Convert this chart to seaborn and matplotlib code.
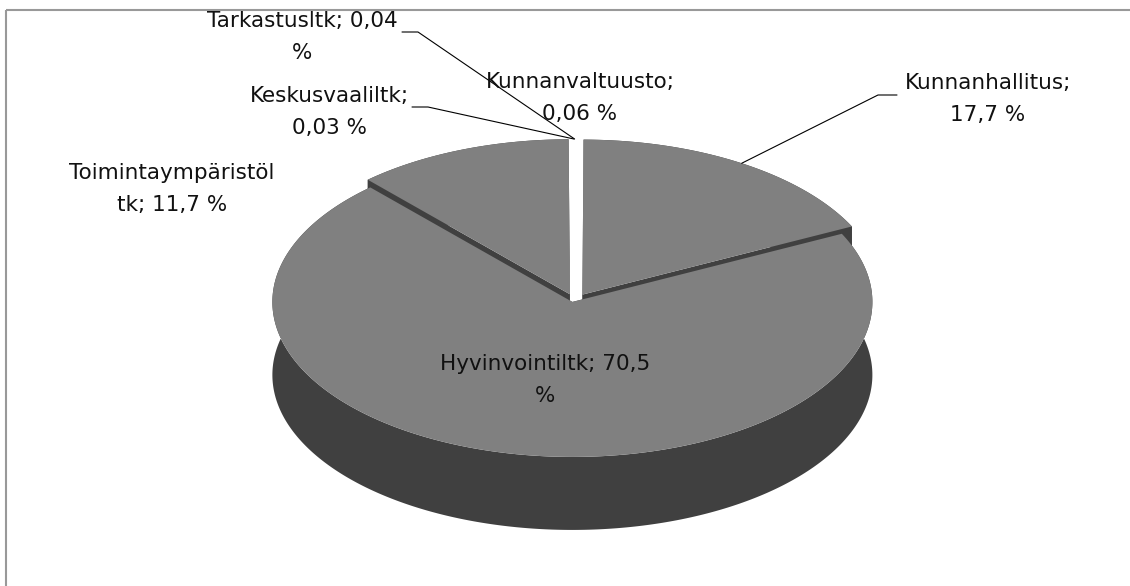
import numpy as np
import matplotlib
matplotlib.use("Agg")
import matplotlib.pyplot as plt
from matplotlib.patches import Polygon
import seaborn as sns

# slices in drawing order, clockwise from 12 o'clock
names = ["Kunnanvaltuusto", "Kunnanhallitus", "Hyvinvointiltk",
         "Toimintaympäristöltk", "Keskusvaaliltk", "Tarkastusltk"]
shares = [0.06, 17.7, 70.5, 11.7, 0.03, 0.04]
label_texts = ["Kunnanvaltuusto;\n0,06 %", "Kunnanhallitus;\n17,7 %",
               "Hyvinvointiltk; 70,5\n%", "Toimintaympäristöl\ntk; 11,7 %",
               "Keskusvaaliltk;\n0,03 %", "Tarkastusltk; 0,04\n%"]

sns.set_style("white")
plt.rcParams["font.family"] = ["DejaVu Sans"]

top_col = "#808080"
side_col = "#404040"
slice_top = [top_col if s >= 1 else "white" for s in shares]
slice_side = [side_col if s >= 1 else "white" for s in shares]

# pie geometry (pixels)
cx, cy = 575, 298
rx, ry = 300, 155
depth = 73
ex, ey = 14, 4  # explosion

fig = plt.figure(figsize=(11.3, 5.86), dpi=100)
ax = fig.add_axes([0, 0, 1, 1])
ax.set_xlim(0, 1130)
ax.set_ylim(586, 0)
ax.axis("off")

frac = np.array(shares) / np.sum(shares)
ends = np.cumsum(frac) * 360
starts = ends - frac * 360
mids = (starts + ends) / 2


def rim(th, ox, oy, dz=0):
    t = np.radians(th)
    return np.column_stack([ox + rx * np.sin(t), oy - ry * np.cos(t) + dz])


slices = []
for i in range(len(shares)):
    m = np.radians(mids[i])
    slices.append((cx + ex * np.sin(m), cy - ey * np.cos(m)))

# back to front
order = np.argsort(-np.cos(np.radians(mids)))
for i in order:
    ox, oy = slices[i]
    th = np.linspace(starts[i], ends[i], max(int(frac[i] * 720), 2))
    top = rim(th, ox, oy)
    bot = rim(th, ox, oy, depth)
    apex = np.array([[ox, oy]])
    apex_b = np.array([[ox, oy + depth]])
    # radial faces
    for j in (0, -1):
        quad = np.vstack([apex, top[[j]], bot[[j]], apex_b])
        ax.add_patch(Polygon(quad, closed=True, fc=slice_side[i], lw=0))
    # outer wall
    wall = np.vstack([top, bot[::-1]])
    ax.add_patch(Polygon(wall, closed=True, fc=slice_side[i], lw=0))
    ax.add_patch(Polygon(np.vstack([apex, top]), closed=True, fc=slice_top[i], lw=0))

# labels
label_pos = {
    "Kunnanvaltuusto": (580, 98),
    "Kunnanhallitus": (988, 99),
    "Hyvinvointiltk": (545, 380),
    "Toimintaympäristöltk": (172, 189),
    "Keskusvaaliltk": (329, 112),
    "Tarkastusltk": (302, 37),
}
for name, txt in zip(names, label_texts):
    x, y = label_pos[name]
    ax.text(x, y, txt, ha="center", va="center", fontsize=15.5,
            linespacing=1.75, color="#111111")

# leader lines
leaders = {
    "Kunnanhallitus": [(897, 95), (878, 95)],
    "Keskusvaaliltk": [(412, 107), (428, 107)],
    "Tarkastusltk": [(402, 32), (418, 32)],
}
for name, pts in leaders.items():
    i = names.index(name)
    ox, oy = slices[i]
    end = rim([mids[i]], ox, oy)[0]
    xs = [p[0] for p in pts] + [end[0]]
    ys = [p[1] for p in pts] + [end[1]]
    ax.plot(xs, ys, color="black", lw=0.8)

# chart frame (only top and left edges visible)
ax.plot([5.5, 1130], [9.5, 9.5], color="#999999", lw=1.5, solid_capstyle="butt")
ax.plot([5.5, 5.5], [9.5, 586], color="#999999", lw=1.5, solid_capstyle="butt")

fig.savefig("out.png", dpi=100)
